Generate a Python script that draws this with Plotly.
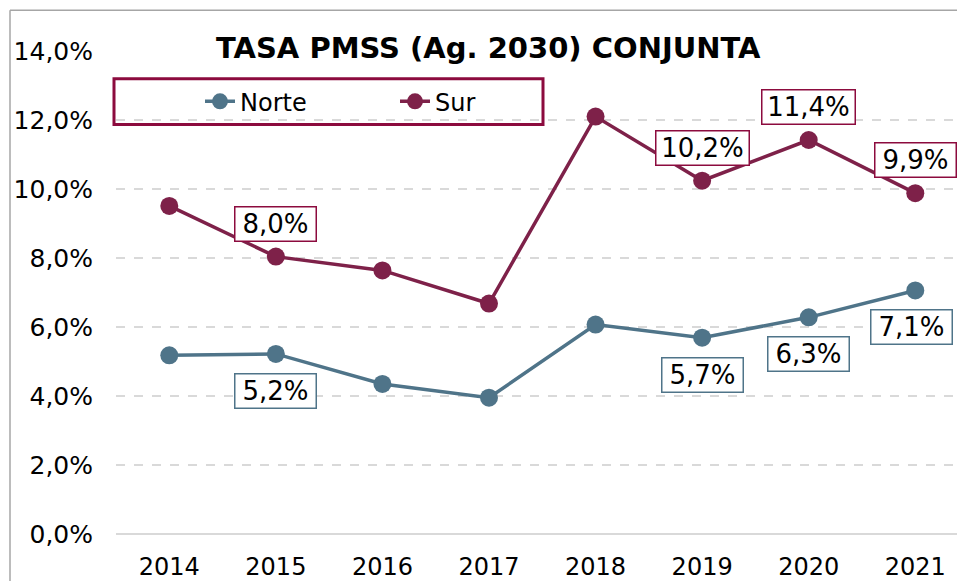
import plotly.graph_objects as go

years = ["2014", "2015", "2016", "2017", "2018", "2019", "2020", "2021"]
norte = [5.18, 5.22, 4.35, 3.95, 6.07, 5.69, 6.28, 7.06]
sur = [9.51, 8.04, 7.64, 6.68, 12.10, 10.24, 11.42, 9.88]
norte_labels = {"2015": "5,2%", "2019": "5,7%", "2020": "6,3%", "2021": "7,1%"}
sur_labels = {"2015": "8,0%", "2019": "10,2%", "2020": "11,4%", "2021": "9,9%"}
y_ticks = [0, 2, 4, 6, 8, 10, 12, 14]
y_tick_text = ["0,0%", "2,0%", "4,0%", "6,0%", "8,0%", "10,0%", "12,0%", "14,0%"]

C_NORTE = "#4F7489"
C_SUR = "#7E2149"
C_SUR_BORDER = "#8C0B3E"
FONT = "DejaVu Sans"

fig = go.Figure()
fig.add_trace(go.Scatter(x=years, y=norte, name="Norte", mode="lines+markers",
                         line=dict(color=C_NORTE, width=3.5),
                         marker=dict(color=C_NORTE, size=18), cliponaxis=False))
fig.add_trace(go.Scatter(x=years, y=sur, name="Sur", mode="lines+markers",
                         line=dict(color=C_SUR, width=3.5),
                         marker=dict(color=C_SUR, size=18), cliponaxis=False))

def box_width(t):
    return 12 * len(t) + 28

annotations = []
for i, yr in enumerate(years):
    if yr in sur_labels:
        t = sur_labels[yr]
        annotations.append(dict(x=i, y=sur[i], xref="x", yref="y", text=t,
                                showarrow=False, yshift=33,
                                font=dict(family=FONT, size=26, color="#000"),
                                bgcolor="white", bordercolor=C_SUR_BORDER, borderwidth=1.5,
                                borderpad=2, width=box_width(t), height=29,
                                xanchor="center", yanchor="middle"))
    if yr in norte_labels:
        t = norte_labels[yr]
        annotations.append(dict(x=i, y=norte[i], xref="x", yref="y", text=t,
                                showarrow=False, yshift=-37, xshift=-4 if yr == "2021" else 0,
                                font=dict(family=FONT, size=26, color="#000"),
                                bgcolor="white", bordercolor=C_NORTE, borderwidth=1.5,
                                borderpad=2, width=box_width(t), height=29,
                                xanchor="center", yanchor="middle"))

annotations.append(dict(xref="paper", yref="paper", x=(488 - 116) / 841, y=(537 - 48) / 486,
                        text="<b>TASA PMSS (Ag. 2030) CONJUNTA</b>", showarrow=False,
                        font=dict(family=FONT, size=29, color="#000"), bgcolor="white",
                        xanchor="center", yanchor="middle", borderpad=1))
fig.update_layout(annotations=annotations)

fig.add_shape(type="rect", xref="paper", yref="paper",
              x0=(114 - 116) / 841, x1=(543 - 116) / 841,
              y0=(537 - 125) / 486, y1=(537 - 79) / 486,
              line=dict(color=C_SUR_BORDER, width=3), fillcolor="white", layer="between")
# outer chart border
fig.add_shape(type="line", xref="paper", yref="paper", x0=(10 - 116) / 841, x1=(10 - 116) / 841,
              y0=-1, y1=(537 - 10) / 486, line=dict(color="#A6A6A6", width=1.5))
fig.add_shape(type="line", xref="paper", yref="paper", x0=(10 - 116) / 841, x1=2,
              y0=(537 - 10) / 486, y1=(537 - 10) / 486, line=dict(color="#A6A6A6", width=1.5))

fig.update_layout(
    width=957, height=581,
    margin=dict(l=116, r=0, t=51, b=44),
    paper_bgcolor="white", plot_bgcolor="white",
    font=dict(family=FONT, size=24, color="#000"),
    showlegend=True,
    legend=dict(orientation="h", x=(200 - 116) / 841, y=(537 - 102) / 486,
                xanchor="left", yanchor="middle", bgcolor="rgba(0,0,0,0)",
                borderwidth=0, entrywidth=150, entrywidthmode="pixels",
                font=dict(family=FONT, size=24, color="#000"), itemclick=False),
    xaxis=dict(type="category", range=[-0.5, (957 - 116) / ((916 - 170) / 7) - 0.5],
               showgrid=False, zeroline=False, showline=False, ticks="",
               tickfont=dict(family=FONT, size=24), ticklabelstandoff=16),
    yaxis=dict(range=[0, 14], tickvals=y_ticks, ticktext=y_tick_text,
               showgrid=True, gridcolor="#D9D9D9", griddash="dash", gridwidth=1.5,
               zeroline=True, zerolinecolor="#D9D9D9", zerolinewidth=2,
               showline=False, ticks="", tickfont=dict(family=FONT, size=25),
               ticklabelstandoff=22),
)

fig.write_html("out.html", config={"displayModeBar": False},
               post_script="document.body.style.margin='0';")
